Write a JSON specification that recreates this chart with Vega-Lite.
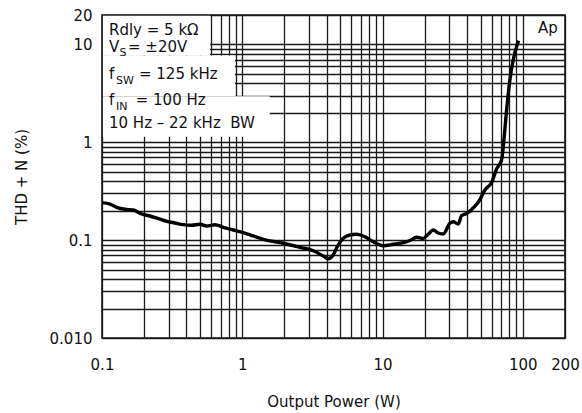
{
  "$schema": "https://vega.github.io/schema/vega-lite/v6.json",
  "width": 463,
  "height": 323,
  "autosize": {"type": "none"},
  "padding": {"left": 102, "top": 15, "right": 17, "bottom": 75},
  "background": "white",
  "config": {
    "view": {"stroke": "#1a1a1a", "strokeWidth": 1.6},
    "font": "DejaVu Sans",
    "axis": {
      "domain": false,
      "ticks": false,
      "grid": true,
      "gridColor": "#1a1a1a",
      "gridWidth": 1.3,
      "gridOpacity": 1,
      "labelFont": "DejaVu Sans",
      "labelFontSize": 15,
      "labelColor": "#111",
      "titleFont": "DejaVu Sans",
      "titleFontSize": 15,
      "titleFontWeight": "normal",
      "titleColor": "#111"
    }
  },
  "datasets": {
    "curve": [
      {"x": 0.1, "y": 0.242}, {"x": 0.114, "y": 0.234}, {"x": 0.1273, "y": 0.2167}, {"x": 0.1458, "y": 0.2067},
      {"x": 0.1671, "y": 0.2033}, {"x": 0.1919, "y": 0.185}, {"x": 0.2199, "y": 0.1765}, {"x": 0.252, "y": 0.1657},
      {"x": 0.2892, "y": 0.1559}, {"x": 0.3314, "y": 0.1497}, {"x": 0.3797, "y": 0.1439}, {"x": 0.4359, "y": 0.1419},
      {"x": 0.4994, "y": 0.1452}, {"x": 0.5578, "y": 0.1395}, {"x": 0.639, "y": 0.1439}, {"x": 0.7321, "y": 0.1353},
      {"x": 0.8627, "y": 0.127}, {"x": 1.0165, "y": 0.1192}, {"x": 1.198, "y": 0.1103}, {"x": 1.412, "y": 0.102},
      {"x": 1.96, "y": 0.0929}, {"x": 2.578, "y": 0.0845}, {"x": 3.207, "y": 0.078}, {"x": 3.779, "y": 0.0689},
      {"x": 4.102, "y": 0.0646}, {"x": 4.452, "y": 0.0705}, {"x": 4.755, "y": 0.0857}, {"x": 5.248, "y": 0.1045},
      {"x": 5.856, "y": 0.1129}, {"x": 6.538, "y": 0.1148}, {"x": 7.493, "y": 0.1085}, {"x": 8.586, "y": 0.0964},
      {"x": 10.12, "y": 0.0878}, {"x": 11.92, "y": 0.0907}, {"x": 14.05, "y": 0.0942}, {"x": 15.68, "y": 0.0992},
      {"x": 17.5, "y": 0.1069}, {"x": 19.5, "y": 0.104}, {"x": 21.17, "y": 0.1148}, {"x": 22.98, "y": 0.127},
      {"x": 24.95, "y": 0.1183}, {"x": 27.08, "y": 0.1156}, {"x": 30.23, "y": 0.1487}, {"x": 31.92, "y": 0.1544},
      {"x": 34.64, "y": 0.1463}, {"x": 36.62, "y": 0.1786}, {"x": 39.76, "y": 0.1872}, {"x": 44.31, "y": 0.2132},
      {"x": 49.06, "y": 0.2543}, {"x": 53.71, "y": 0.3256}, {"x": 59.95, "y": 0.3882}, {"x": 65.07, "y": 0.5337},
      {"x": 70.63, "y": 0.6596}, {"x": 73.35, "y": 1.056}, {"x": 76.67, "y": 2.138}, {"x": 80.92, "y": 4.332},
      {"x": 85.43, "y": 6.937}, {"x": 90.31, "y": 9.48}, {"x": 93.3, "y": 10.93}
    ],
    "masks": [
      {"x": 0.1015, "x2": 0.59, "y": 7.7, "y2": 19.6},
      {"x": 0.1015, "x2": 0.885, "y": 2.95, "y2": 7.7},
      {"x": 0.1015, "x2": 1.57, "y": 1.14, "y2": 2.95}
    ],
    "notes": [
      {"label": "Rdly = 5 kΩ", "x": 0.1122, "y": 12.6},
      {"label": "V", "x": 0.1122, "y": 8.45},
      {"label": "= ±20V", "x": 0.1532, "y": 8.45},
      {"label": "f", "x": 0.1122, "y": 4.436},
      {"label": "= 125 kHz", "x": 0.1835, "y": 4.436},
      {"label": "f", "x": 0.1122, "y": 2.4},
      {"label": "= 100 Hz", "x": 0.1739, "y": 2.4},
      {"label": "10 Hz – 22 kHz\u00a0\u00a0BW", "x": 0.1122, "y": 1.4}
    ],
    "subs": [
      {"label": "S", "x": 0.1332, "y": 7.55},
      {"label": "SW", "x": 0.1258, "y": 3.94},
      {"label": "IN", "x": 0.1258, "y": 2.12}
    ],
    "tag": [
      {"label": "Ap", "x": 177.8, "y": 13.09}
    ]
  },
  "layer": [
    {
      "data": {"name": "masks"},
      "mark": {"type": "rect", "fill": "white", "stroke": null},
      "encoding": {
        "x": {
          "field": "x", "type": "quantitative",
          "scale": {"type": "log", "domain": [0.1, 200], "nice": false},
          "title": "Output Power (W)",
          "axis": {
            "values": [0.1, 0.2, 0.3, 0.4, 0.5, 0.6, 0.7, 0.8, 0.9, 1, 2, 3, 4, 5, 6, 7, 8, 9, 10, 20, 30, 40, 50, 60, 70, 80, 90, 100, 200],
            "labelExpr": "datum.value == 0.1 ? '0.1' : datum.value == 1 ? '1' : datum.value == 10 ? '10' : datum.value == 100 ? '100' : datum.value == 200 ? '200' : ''",
            "labelPadding": 19,
            "labelFlush": false,
            "labelOverlap": false,
            "titlePadding": 22
          }
        },
        "x2": {"field": "x2"},
        "y": {
          "field": "y", "type": "quantitative",
          "scale": {"type": "log", "domain": [0.01, 20], "nice": false},
          "title": "THD + N (%)",
          "axis": {
            "values": [0.01, 0.02, 0.03, 0.04, 0.05, 0.06, 0.07, 0.08, 0.09, 0.1, 0.2, 0.3, 0.4, 0.5, 0.6, 0.7, 0.8, 0.9, 1, 2, 3, 4, 5, 6, 7, 8, 9, 10, 20],
            "labelExpr": "datum.value == 0.01 ? '0.010' : datum.value == 0.1 ? '0.1' : datum.value == 1 ? '1' : datum.value == 10 ? '10' : datum.value == 20 ? '20' : ''",
            "labelPadding": 10,
            "labelFlush": false,
            "labelOverlap": false,
            "titlePadding": 20
          }
        },
        "y2": {"field": "y2"}
      }
    },
    {
      "data": {"name": "curve"},
      "mark": {"type": "line", "color": "#000", "strokeWidth": 3.4, "interpolate": "monotone"},
      "encoding": {
        "x": {"field": "x", "type": "quantitative", "title": "Output Power (W)"},
        "y": {"field": "y", "type": "quantitative", "title": "THD + N (%)"}
      }
    },
    {
      "data": {"name": "notes"},
      "mark": {"type": "text", "align": "left", "baseline": "alphabetic", "fontSize": 15, "color": "#111", "font": "DejaVu Sans"},
      "encoding": {
        "x": {"field": "x", "type": "quantitative", "title": "Output Power (W)"},
        "y": {"field": "y", "type": "quantitative", "title": "THD + N (%)"},
        "text": {"field": "label"}
      }
    },
    {
      "data": {"name": "subs"},
      "mark": {"type": "text", "align": "left", "baseline": "alphabetic", "fontSize": 11, "color": "#111", "font": "DejaVu Sans"},
      "encoding": {
        "x": {"field": "x", "type": "quantitative", "title": "Output Power (W)"},
        "y": {"field": "y", "type": "quantitative", "title": "THD + N (%)"},
        "text": {"field": "label"}
      }
    },
    {
      "data": {"name": "tag"},
      "mark": {"type": "text", "align": "right", "baseline": "alphabetic", "fontSize": 15, "color": "#111", "font": "DejaVu Sans"},
      "encoding": {
        "x": {"field": "x", "type": "quantitative", "title": "Output Power (W)"},
        "y": {"field": "y", "type": "quantitative", "title": "THD + N (%)"},
        "text": {"field": "label"}
      }
    }
  ]
}
